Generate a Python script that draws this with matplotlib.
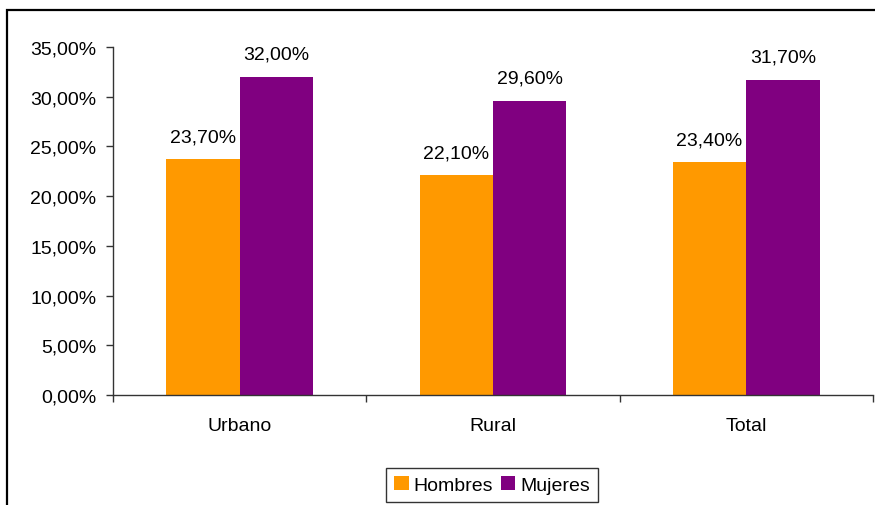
import matplotlib
matplotlib.use("Agg")
import matplotlib.pyplot as plt
from matplotlib.patches import Rectangle
from matplotlib.ticker import FuncFormatter, FixedLocator
import numpy as np

plt.rcParams['font.family'] = ['Liberation Sans', 'DejaVu Sans']

categories = ["Urbano", "Rural", "Total"]
series_names = ["Hombres", "Mujeres"]
hombres = [23.70, 22.10, 23.40]
mujeres = [32.00, 29.60, 31.70]
colors = ["#FF9900", "#800080"]

fig = plt.figure(figsize=(8.75, 5.06), dpi=100)
W, H = 875, 506
ax = fig.add_axes([113 / W, (H - 396) / H, (873 - 113) / W, (396 - 48) / H])

x = np.arange(len(categories))
bw = 0.29
fs = 14

def fmt(v):
    return f"{v:.2f}".replace(".", ",") + "%"

b1 = ax.bar(x - bw / 2, hombres, bw, color=colors[0], label=series_names[0])
b2 = ax.bar(x + bw / 2, mujeres, bw, color=colors[1], label=series_names[1])
for bars, vals in ((b1, hombres), (b2, mujeres)):
    for r, v in zip(bars, vals):
        ax.annotate(fmt(v), (r.get_x() + r.get_width() / 2, v), xytext=(0, 10),
                    textcoords="offset points", ha="center", va="bottom", fontsize=fs)

ax.set_xlim(-0.5, len(categories) - 0.5)
ax.set_ylim(0, 35)
ax.set_yticks(np.arange(0, 35.01, 5))
ax.yaxis.set_major_formatter(FuncFormatter(lambda v, p: fmt(v)))
ax.set_xticks(x)
ax.set_xticklabels(categories)
ax.xaxis.set_minor_locator(FixedLocator(np.arange(-0.5, len(categories), 1.0)))
ax.tick_params(axis="x", which="major", length=0, pad=15.5, labelsize=fs)
ax.tick_params(axis="x", which="minor", length=5, width=1, color="#333333")
ax.tick_params(axis="y", length=5, width=1, color="#333333", pad=7, labelsize=fs)

for s in ("top", "right"):
    ax.spines[s].set_visible(False)
for s in ("left", "bottom"):
    ax.spines[s].set_color("#333333")
    ax.spines[s].set_linewidth(1)

leg = fig.legend(loc="center", bbox_to_anchor=(492 / W, (H - 486) / H), ncol=2,
                 frameon=True, fancybox=False, edgecolor="black", fontsize=fs,
                 handlelength=0.75, handleheight=0.75, handletextpad=0.25,
                 columnspacing=0.4, borderpad=0.4, borderaxespad=0)
leg.get_frame().set_linewidth(1)

fig.patches.append(Rectangle((7 / W, -0.1), 1.2, (H - 11) / H + 0.1,
                             transform=fig.transFigure, fill=False,
                             edgecolor="black", linewidth=1.6))

fig.savefig("out.png", dpi=100)
